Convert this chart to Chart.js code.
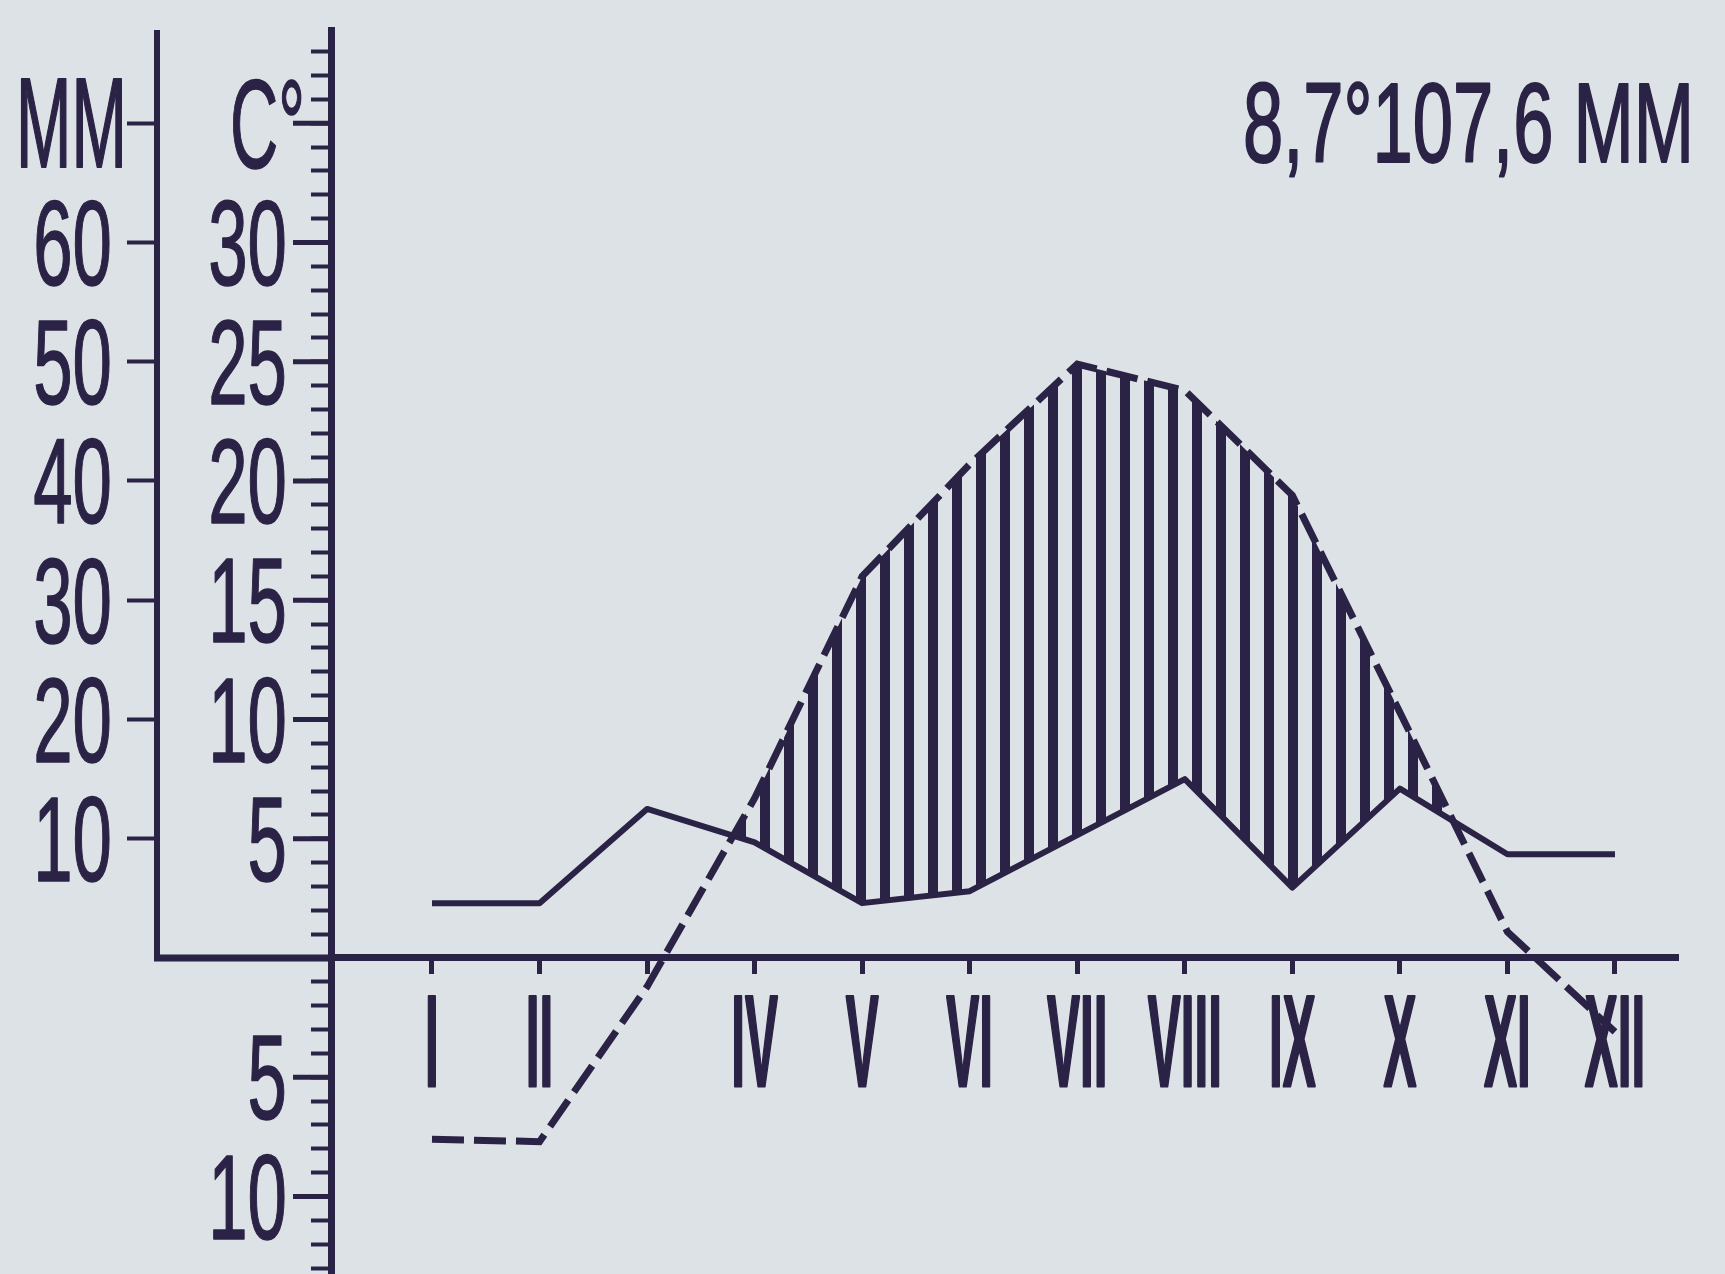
<!DOCTYPE html>
<html>
<head>
<meta charset="utf-8">
<script src="https://cdn.jsdelivr.net/npm/chart.js@4.4.1/dist/chart.umd.min.js"></script>
<style>
  html, body { margin: 0; padding: 0; background: #dce2e5; }
  #wrap { width: 1725px; height: 1274px; }
</style>
</head>
<body>
<div id="wrap"><canvas id="chart" width="1725" height="1274"></canvas></div>
<script>
const INK = "#2b2346";

// месяцы; "III" в оригинале не пропечатано
const months = ["I", "II", "III", "IV", "V", "VI", "VII", "VIII", "IX", "X", "XI", "XII"];
const monthLabels = ["I", "II", "", "IV", "V", "VI", "VII", "VIII", "IX", "X", "XI", "XII"];

// средняя температура, °C (пунктир)
const temperature = [-7.6, -7.7, -1.2, 6.7, 16.0, 20.7, 24.9, 23.8, 19.4, 10.3, 1.1, -3.1];
// осадки, мм (сплошная)
const precipitation = [4.6, 4.6, 12.5, 9.7, 4.6, 5.6, 10.3, 15.0, 5.9, 14.2, 8.7, 8.7];

const tempTicks = [35, 30, 25, 20, 15, 10, 5, -5, -10];
const tempTickText = ["C°", "30", "25", "20", "15", "10", "5", "5", "10"];
const precTicks = [70, 60, 50, 40, 30, 20, 10];
const precTickText = ["MM", "60", "50", "40", "30", "20", "10"];

const headline = "8,7°107,6 MM";

const FONT = '"Liberation Sans", Arial, sans-serif';

function hatchPattern(ctx) {
  const c = document.createElement("canvas");
  c.width = 24;
  c.height = 8;
  const g = c.getContext("2d");
  g.fillStyle = INK;
  g.fillRect(16, 0, 8, 8);
  g.fillRect(0, 0, 2, 8);
  return ctx.createPattern(c, "repeat");
}

// narrow lettering like the printed original: draw text squeezed horizontally
function squeezed(ctx, text, x, y, size, sx, align, bold, strokeW) {
  ctx.save();
  ctx.font = (bold ? "bold " : "") + size + "px " + FONT;
  const w = ctx.measureText(text).width * sx;
  let left = x;
  if (align === "right") left = x - w;
  if (align === "center") left = x - w / 2;
  ctx.translate(left, y);
  ctx.scale(sx, 1);
  ctx.textAlign = "left";
  ctx.textBaseline = "alphabetic";
  ctx.fillStyle = INK;
  ctx.fillText(text, 0, 0);
  if (strokeW) {
    ctx.lineWidth = strokeW;
    ctx.strokeStyle = INK;
    ctx.lineJoin = "round";
    ctx.strokeText(text, 0, 0);
  }
  ctx.restore();
}

function capHeight(ctx, text, size, bold) {
  ctx.save();
  ctx.font = (bold ? "bold " : "") + size + "px " + FONT;
  const a = ctx.measureText(text).actualBoundingBoxAscent;
  ctx.restore();
  return a;
}

const decorations = {
  id: "decorations",
  afterDraw(chart) {
    const ctx = chart.ctx;
    const xs = chart.scales.x;
    const yT = chart.scales.y;
    const yP = chart.scales.yP;
    const zeroY = yT.getPixelForValue(0);
    const tAxisX = yT.right;
    const pAxisX = yP.right;

    ctx.save();
    ctx.strokeStyle = INK;
    ctx.lineCap = "butt";

    // mm axis: only from zero upward
    ctx.lineWidth = 6;
    ctx.beginPath();
    ctx.moveTo(pAxisX, yP.getPixelForValue(0) + 3);
    ctx.lineTo(pAxisX, chart.chartArea.top);
    ctx.stroke();

    // zero line continues left to the mm axis
    ctx.lineWidth = 7;
    ctx.beginPath();
    ctx.moveTo(pAxisX - 3, zeroY);
    ctx.lineTo(tAxisX, zeroY);
    ctx.stroke();

    // long ticks every 5 °C
    ctx.lineWidth = 5;
    tempTicks.forEach(v => {
      const y = yT.getPixelForValue(v);
      ctx.beginPath();
      ctx.moveTo(tAxisX - 38, y);
      ctx.lineTo(tAxisX - 2, y);
      ctx.stroke();
    });
    ctx.restore();

    // temperature labels
    tempTicks.forEach((v, i) => {
      const y = yT.getPixelForValue(v);
      const text = tempTickText[i];
      if (text === "C°") {
        const h = capHeight(ctx, "C", 126);
        squeezed(ctx, text, tAxisX - 26, y + h / 2, 126, 0.53, "right", false, 1.5);
      } else {
        const h = capHeight(ctx, text, 120);
        squeezed(ctx, text, tAxisX - 44, y + h / 2, 120, 0.59, "right", false, 1.5);
      }
    });

    // precipitation labels
    precTicks.forEach((v, i) => {
      const y = yP.getPixelForValue(v);
      const text = precTickText[i];
      if (text === "MM") {
        const h = capHeight(ctx, text, 128);
        squeezed(ctx, text, pAxisX - 30, y + h / 2, 128, 0.52, "right", false, 2);
      } else {
        const h = capHeight(ctx, text, 120);
        squeezed(ctx, text, pAxisX - 45, y + h / 2, 120, 0.59, "right", false, 1.5);
      }
    });

    // month numerals under the zero line
    monthLabels.forEach((m, i) => {
      if (!m) return;
      const x = xs.getPixelForValue(i + 1);
      squeezed(ctx, m, x, zeroY + 128, 130, 0.38, "center", true, 3);
    });

    // annual mean temperature and precipitation
    ctx.save();
    ctx.font = "114px " + FONT;
    const natural = ctx.measureText(headline).width;
    ctx.restore();
    squeezed(ctx, headline, 1243, 162, 114, 451 / natural, "left", false, 2);
  }
};

const canvas = document.getElementById("chart");
const c2d = canvas.getContext("2d");

new Chart(canvas, {
  type: "line",
  data: {
    datasets: [
      {
        label: "°C",
        data: months.map((m, i) => ({ x: i + 1, y: temperature[i] })),
        yAxisID: "y",
        borderColor: INK,
        borderWidth: 7,
        borderDash: [32, 10],
        tension: 0,
        pointRadius: 0,
        fill: { target: 1, above: hatchPattern(c2d), below: "rgba(0,0,0,0)" }
      },
      {
        label: "мм",
        data: months.map((m, i) => ({ x: i + 1, y: precipitation[i] })),
        yAxisID: "yP",
        borderColor: INK,
        borderWidth: 6,
        borderJoinStyle: "round",
        tension: 0,
        pointRadius: 0,
        fill: false
      }
    ]
  },
  options: {
    responsive: false,
    animation: false,
    layout: { padding: { top: 30, right: 47, bottom: 0, left: 0 } },
    plugins: {
      legend: { display: false },
      tooltip: { enabled: false }
    },
    scales: {
      x: {
        type: "linear",
        position: { y: 0 },
        min: 0.061,
        max: 12.586,
        afterBuildTicks: s => { s.ticks = months.map((m, i) => ({ value: i + 1 })); },
        ticks: { display: false },
        grid: { drawOnChartArea: false, tickLength: 13, tickWidth: 5, tickColor: INK },
        border: { color: INK, width: 7 }
      },
      y: {
        position: "left",
        weight: 0,
        min: -13.25,
        max: 38.91,
        afterBuildTicks: s => {
          const t = [];
          for (let v = -13; v <= 38; v++) t.push({ value: v });
          s.ticks = t;
        },
        afterFit: s => { s.width = 174; },
        ticks: { display: false },
        grid: { drawOnChartArea: false, tickLength: 20, tickWidth: 4, tickColor: INK },
        border: { color: INK, width: 7 }
      },
      yP: {
        position: "left",
        weight: 1,
        min: -26.5,
        max: 77.82,
        afterBuildTicks: s => { s.ticks = precTicks.map(v => ({ value: v })); },
        afterFit: s => { s.width = 157; },
        ticks: { display: false },
        grid: { drawOnChartArea: false, tickLength: 30, tickWidth: 4, tickColor: INK },
        border: { display: false }
      }
    }
  },
  plugins: [decorations]
});
</script>
</body>
</html>
